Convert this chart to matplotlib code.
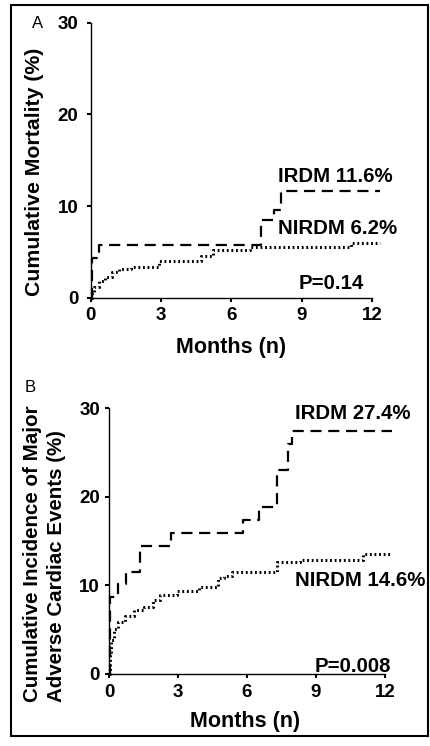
import numpy as np
import matplotlib
matplotlib.use("Agg")
import matplotlib.pyplot as plt
from matplotlib.patches import Rectangle

plt.rcParams['font.family'] = ['Liberation Sans', 'DejaVu Sans']

# ------------------------------------------------------------------
# Kaplan-Meier style step data (months, cumulative %)
# ------------------------------------------------------------------
mort_irdm_t = [0, 0.04, 0.37, 7.28, 7.8, 8.1, 12.35]
mort_irdm_v = [0, 4.3, 5.8, 8.5, 9.6, 11.6, 11.6]

mort_nirdm_t = [0, 0.05, 0.15, 0.35, 0.6, 0.9, 1.2, 1.7, 2.9, 4.7, 5.2, 6.8, 11.1, 12.35]
mort_nirdm_v = [0, 0.6, 1.2, 1.8, 2.3, 2.8, 3.1, 3.4, 4.0, 4.5, 5.2, 5.5, 6.0, 6.0]

mace_irdm_t = [0, 0.05, 0.4, 0.74, 1.35, 2.68, 5.84, 6.5, 7.3, 7.8, 7.94, 12.3]
mace_irdm_v = [0, 8.7, 10.2, 11.5, 14.4, 15.9, 17.4, 18.8, 23.0, 26.0, 27.4, 27.4]

mace_nirdm_t = [0, 0.03, 0.07, 0.2, 0.4, 0.7, 1.1, 1.5, 1.9, 2.2, 2.94, 3.9, 4.75, 5.0, 5.33,
                7.3, 8.3, 11.06, 12.3]
mace_nirdm_v = [0, 2.5, 3.8, 5.1, 5.9, 6.6, 7.2, 7.6, 8.3, 8.9, 9.4, 9.8, 10.8, 11.1, 11.5,
                12.7, 12.9, 13.6, 13.6]

xticks = [0, 3, 6, 9, 12]
yticks = [0, 10, 20, 30]

W, H = 430, 746
fig = plt.figure(figsize=(W / 100, H / 100), dpi=100)

# frame around the whole figure
fig.patches.append(Rectangle((11 / W, 1 - 736 / H), 417 / W, 731 / H,
                             transform=fig.transFigure, fill=False,
                             edgecolor='black', linewidth=1.5))


def style_axes(ax, ypad):
    ax.set_xlim(0, 12)
    ax.set_ylim(0, 30)
    ax.set_xticks(xticks)
    ax.set_yticks(yticks)
    for s in ['top', 'right']:
        ax.spines[s].set_visible(False)
    for s in ['left', 'bottom']:
        ax.spines[s].set_linewidth(1.0)
    ax.tick_params(length=3, width=1.5, labelsize=13.5)
    ax.tick_params(axis='x', pad=4)
    ax.tick_params(axis='y', pad=ypad)
    for lab in ax.get_xticklabels() + ax.get_yticklabels():
        lab.set_fontweight('bold')


dash = dict(color='black', linewidth=1.6, linestyle=(0, (5, 3.0)),
            drawstyle='steps-post', clip_on=False)
dots = dict(color='black', linewidth=2.2, linestyle=(0, (0.6, 0.9)),
            drawstyle='steps-post', clip_on=False)
lbl = dict(fontsize=14.7, fontweight='bold', va='center')

# --- Panel A: mortality ---
axA = fig.add_axes([90.7 / W, 1 - 297.7 / H, 281.3 / W, 275 / H])
axA.plot(mort_irdm_t, mort_irdm_v, **dash)
axA.plot(mort_nirdm_t, mort_nirdm_v, **dots)
style_axes(axA, 6)
fig.text(231 / W, 1 - 348 / H, 'Months (n)', fontsize=15.5, fontweight='bold',
         ha='center', va='center')
fig.text(34.5 / W, 1 - 172 / H, 'Cumulative Mortality (%)', fontsize=15.3,
         fontweight='bold', rotation=90, ha='center', va='center')
axA.text(8.0, 13.2, 'IRDM 11.6%', **lbl)
axA.text(8.0, 7.6, 'NIRDM 6.2%', **lbl)
axA.text(8.85, 1.6, 'P=0.14', **lbl)
fig.text(38 / W, 1 - 24 / H, 'A', fontsize=12, ha='center', va='center')

# --- Panel B: major adverse cardiac events ---
axB = fig.add_axes([109 / W, 1 - 674 / H, 276 / W, 265.7 / H])
axB.plot(mace_irdm_t, mace_irdm_v, **dash)
axB.plot(mace_nirdm_t, mace_nirdm_v, **dots)
style_axes(axB, 3.5)
fig.text(245 / W, 1 - 721.7 / H, 'Months (n)', fontsize=15.5, fontweight='bold',
         ha='center', va='center')
fig.text(32.5 / W, 1 - 702 / H, 'Cumulative Incidence of Major', fontsize=14.8,
         fontweight='bold', rotation=90, ha='center', va='bottom')
fig.text(56.5 / W, 1 - 702 / H, 'Adverse Cardiac Events (%)', fontsize=14.8,
         fontweight='bold', rotation=90, ha='center', va='bottom')
axB.text(8.1, 29.4, 'IRDM 27.4%', **lbl)
axB.text(8.1, 10.6, 'NIRDM 14.6%', **lbl)
axB.text(8.95, 0.9, 'P=0.008', **lbl)
fig.text(30 / W, 1 - 388 / H, 'B', fontsize=12, ha='center', va='center')

fig.savefig('out.png', dpi=100)
